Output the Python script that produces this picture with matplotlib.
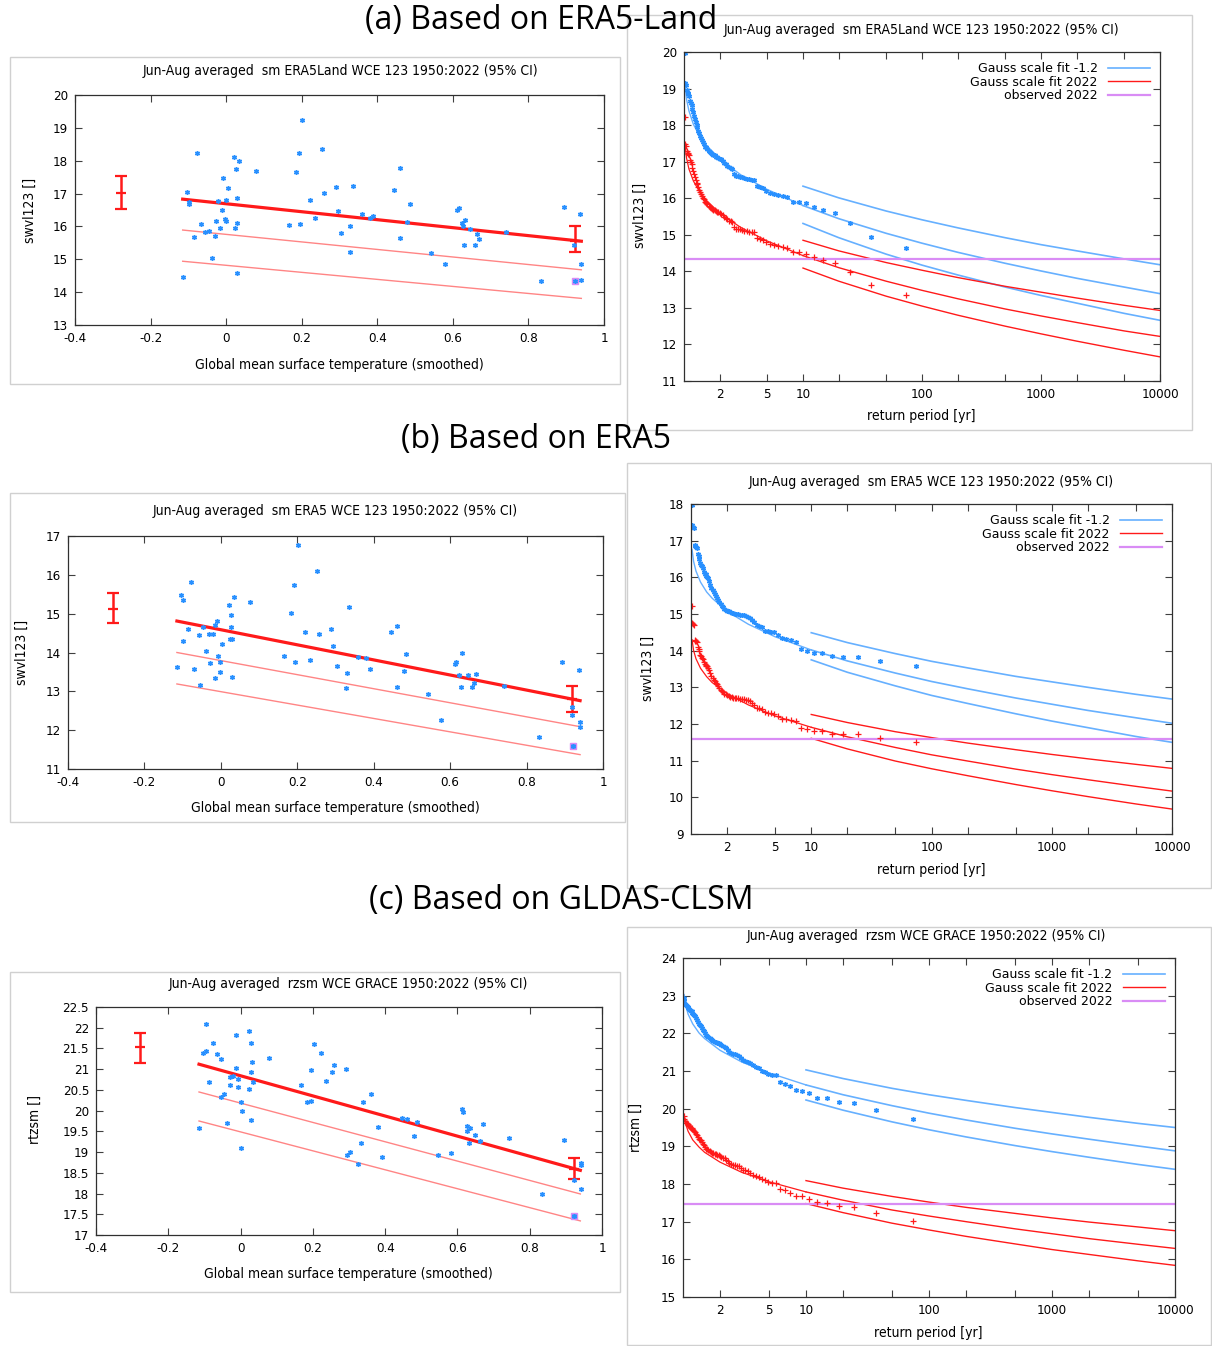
"""Three-row figure: trend scatter + return-period plots for JJA soil moisture."""

import matplotlib
matplotlib.use("Agg")
import matplotlib.pyplot as plt
from matplotlib.patches import Rectangle
from matplotlib.ticker import FixedLocator, FixedFormatter, NullLocator

W, H = 1212, 1346

# ---------------------------------------------------------------------------
# Data
# ---------------------------------------------------------------------------

# (a) ERA5-Land scatter: smoothed GMST vs JJA swvl123
gmst_a = [-0.115, -0.104, -0.098, -0.098, -0.077, -0.067, -0.086, -0.057, -0.046, -0.038,
          -0.030, -0.027, -0.021, -0.015, -0.012, -0.007, -0.004, 0.000, 0.000, 0.004,
          0.021, 0.026, 0.035, 0.023, 0.029, 0.028, 0.028, 0.079, 0.167, 0.184,
          0.193, 0.195, 0.201, 0.222, 0.235, 0.253, 0.258, 0.290, 0.295, 0.304,
          0.329, 0.327, 0.337, 0.359, 0.382, 0.389, 0.445, 0.461, 0.461, 0.479,
          0.486, 0.543, 0.579, 0.612, 0.616, 0.625, 0.627, 0.629, 0.632, 0.646,
          0.659, 0.663, 0.669, 0.741, 0.833, 0.894, 0.921, 0.937, 0.940, 0.940]
sm_a = [14.47, 17.05, 16.75, 16.68, 18.23, 16.08, 15.68, 15.82, 15.87, 15.03,
        15.72, 16.18, 16.78, 15.95, 16.49, 17.48, 16.24, 16.18, 16.80, 17.17,
        18.10, 17.76, 17.98, 15.95, 16.10, 16.86, 14.59, 17.70, 16.04, 17.66,
        18.23, 16.06, 19.25, 16.81, 16.26, 18.35, 17.01, 17.20, 16.47, 15.79,
        16.01, 15.22, 17.24, 16.39, 16.27, 16.31, 17.11, 17.79, 15.64, 16.12,
        16.67, 15.18, 14.86, 16.51, 16.57, 16.10, 16.02, 15.42, 16.20, 15.92,
        15.44, 15.76, 15.62, 15.83, 14.34, 16.60, 15.42, 16.38, 14.86, 14.36]

# (b) ERA5 scatter
gmst_b = [-0.116, -0.105, -0.098, -0.098, -0.087, -0.077, -0.069, -0.058, -0.055, -0.047,
          -0.040, -0.030, -0.028, -0.021, -0.016, -0.016, -0.009, -0.007, -0.003, -0.002,
          0.002, 0.021, 0.024, 0.027, 0.026, 0.029, 0.028, 0.034, 0.076, 0.165,
          0.183, 0.192, 0.194, 0.201, 0.220, 0.234, 0.251, 0.258, 0.289, 0.294,
          0.303, 0.328, 0.330, 0.335, 0.359, 0.379, 0.389, 0.445, 0.461, 0.461,
          0.480, 0.484, 0.542, 0.577, 0.612, 0.615, 0.624, 0.628, 0.631, 0.647,
          0.658, 0.662, 0.668, 0.740, 0.833, 0.894, 0.918, 0.919, 0.921, 0.938,
          0.939, 0.939]
sm_b = [13.62, 15.49, 15.35, 14.30, 14.60, 15.81, 13.58, 14.44, 13.16, 14.65,
        14.04, 14.47, 13.74, 14.47, 13.35, 14.71, 14.80, 13.92, 13.76, 13.51,
        14.23, 15.23, 14.36, 14.96, 14.66, 14.34, 13.36, 15.43, 15.30, 13.92,
        15.02, 15.73, 13.76, 16.78, 14.52, 13.81, 16.11, 14.48, 14.61, 14.17,
        13.64, 13.09, 13.47, 15.18, 13.88, 13.85, 13.58, 14.53, 14.68, 13.10,
        13.53, 13.95, 12.92, 12.27, 13.70, 13.75, 13.42, 13.10, 14.00, 13.42,
        13.10, 13.21, 13.44, 13.15, 11.83, 13.76, 12.59, 12.39, 11.60, 13.55,
        12.22, 12.09]

# (c) GLDAS-CLSM scatter (rzsm)
gmst_c = [-0.114, -0.103, -0.097, -0.095, -0.086, -0.076, -0.066, -0.055, -0.053, -0.045,
          -0.038, -0.029, -0.028, -0.022, -0.013, -0.012, -0.007, -0.006, 0.000, 0.000,
          0.004, 0.023, 0.024, 0.029, 0.029, 0.030, 0.032, 0.034, 0.080, 0.168,
          0.185, 0.195, 0.196, 0.204, 0.223, 0.235, 0.253, 0.259, 0.292, 0.295,
          0.304, 0.326, 0.333, 0.339, 0.360, 0.380, 0.390, 0.447, 0.460, 0.480,
          0.487, 0.547, 0.581, 0.613, 0.616, 0.626, 0.626, 0.634, 0.633, 0.649,
          0.663, 0.672, 0.743, 0.834, 0.895, 0.923, 0.923, 0.941, 0.942, 0.941]
sm_c = [19.58, 21.39, 21.43, 22.10, 20.69, 21.63, 21.36, 21.25, 20.33, 20.39,
        19.69, 20.63, 20.81, 20.84, 21.83, 21.03, 20.76, 20.57, 20.21, 19.09,
        19.99, 20.53, 21.91, 20.93, 19.77, 21.63, 21.17, 20.68, 21.28, 20.63,
        20.21, 20.99, 20.23, 21.61, 21.38, 20.71, 20.92, 21.09, 21.00, 18.92,
        19.01, 18.72, 19.23, 20.21, 20.41, 19.61, 18.89, 19.83, 19.79, 19.38,
        19.73, 18.92, 18.97, 20.05, 19.97, 19.63, 19.50, 19.58, 19.21, 19.42,
        19.26, 19.68, 19.33, 17.98, 19.28, 17.46, 18.32, 18.74, 18.68, 18.10]

# observed 2022 value (x = GMST 2022)
obs_gmst = 0.922
obs_a, obs_b, obs_c = 14.33, 11.60, 17.46

# fitted trend lines in the scatter plots (start / end of covariate range)
trend_x = [-0.115, 0.94]
trend_a = [[16.83, 15.55], [15.89, 14.68], [14.94, 13.81]]
trend_b = [[14.81, 12.76], [14.00, 12.09], [13.19, 11.37]]
trend_c = [[21.12, 18.56], [20.45, 17.99], [19.75, 17.34]]

# 95% CI error bars on the mean: (x, centre, low, high)
ebar_a = [(-0.277, 17.03, 16.53, 17.53), (0.922, 15.57, 15.22, 16.02)]
ebar_b = [(-0.281, 15.13, 14.75, 15.54), (0.919, 12.80, 12.48, 13.14)]
ebar_c = [(-0.278, 21.54, 21.16, 21.87), (0.923, 18.60, 18.34, 18.85)]

# return-period plots: ordered values, rank 1 = driest (longest return period)
n_years = 73
rl_pts_a_cold = [14.63, 14.93, 15.31, 15.59, 15.69, 15.75, 15.86, 15.91, 15.91, 16.04,
                 16.07, 16.10, 16.12, 16.14, 16.20, 16.28, 16.31, 16.34, 16.51, 16.51,
                 16.52, 16.53, 16.55, 16.57, 16.59, 16.60, 16.62, 16.66, 16.80, 16.83,
                 16.86, 16.89, 16.94, 16.96, 17.03, 17.07, 17.08, 17.10, 17.12, 17.14,
                 17.17, 17.19, 17.21, 17.23, 17.26, 17.29, 17.35, 17.39, 17.41, 17.49,
                 17.53, 17.58, 17.64, 17.71, 17.78, 17.85, 17.94, 17.99, 18.08, 18.17,
                 18.26, 18.35, 18.45, 18.54, 18.60, 18.67, 18.81, 18.86, 18.88, 18.95,
                 19.09, 19.15, 19.97]
rl_pts_a_now = [13.36, 13.63, 13.98, 14.23, 14.32, 14.38, 14.48, 14.53, 14.53, 14.64,
                14.67, 14.70, 14.72, 14.74, 14.79, 14.86, 14.89, 14.92, 15.07, 15.07,
                15.08, 15.09, 15.11, 15.13, 15.15, 15.16, 15.17, 15.21, 15.34, 15.37,
                15.39, 15.42, 15.47, 15.48, 15.55, 15.58, 15.59, 15.61, 15.63, 15.65,
                15.68, 15.69, 15.71, 15.73, 15.76, 15.79, 15.84, 15.88, 15.90, 15.97,
                16.00, 16.05, 16.11, 16.17, 16.23, 16.30, 16.38, 16.42, 16.51, 16.59,
                16.67, 16.75, 16.84, 16.93, 16.98, 17.05, 17.17, 17.22, 17.24, 17.30,
                17.43, 17.48, 18.23]
rl_pts_b_cold = [13.59, 13.73, 13.84, 13.84, 13.86, 13.94, 13.95, 14.00, 14.05, 14.25,
                 14.30, 14.32, 14.35, 14.42, 14.50, 14.52, 14.53, 14.55, 14.65, 14.68,
                 14.70, 14.78, 14.85, 14.90, 14.93, 14.95, 14.96, 14.97, 14.98, 14.99,
                 15.00, 15.01, 15.02, 15.03, 15.05, 15.07, 15.09, 15.12, 15.15, 15.18,
                 15.22, 15.27, 15.32, 15.38, 15.45, 15.50, 15.55, 15.60, 15.65, 15.72,
                 15.80, 15.90, 15.98, 16.02, 16.05, 16.08, 16.10, 16.15, 16.25, 16.30,
                 16.35, 16.40, 16.50, 16.58, 16.65, 16.80, 16.83, 16.85, 16.88, 17.35,
                 17.38, 17.42, 17.98]
rl_pts_b_now = [11.51, 11.63, 11.72, 11.72, 11.74, 11.81, 11.82, 11.86, 11.90, 12.07,
                12.11, 12.13, 12.15, 12.21, 12.28, 12.30, 12.31, 12.32, 12.41, 12.43,
                12.45, 12.52, 12.58, 12.62, 12.65, 12.66, 12.67, 12.68, 12.69, 12.70,
                12.71, 12.71, 12.72, 12.73, 12.75, 12.76, 12.78, 12.81, 12.83, 12.86,
                12.89, 12.93, 12.98, 13.03, 13.09, 13.13, 13.17, 13.21, 13.26, 13.31,
                13.38, 13.47, 13.54, 13.57, 13.59, 13.62, 13.64, 13.68, 13.76, 13.81,
                13.85, 13.89, 13.98, 14.04, 14.10, 14.23, 14.26, 14.27, 14.30, 14.70,
                14.72, 14.75, 15.23]
rl_pts_c_cold = [19.73, 19.97, 20.14, 20.19, 20.28, 20.29, 20.41, 20.47, 20.50, 20.59,
                 20.66, 20.70, 20.89, 20.89, 20.92, 20.98, 21.00, 21.08, 21.10, 21.15,
                 21.20, 21.25, 21.27, 21.30, 21.35, 21.40, 21.42, 21.44, 21.45, 21.47,
                 21.50, 21.55, 21.60, 21.64, 21.67, 21.70, 21.72, 21.74, 21.75, 21.77,
                 21.78, 21.80, 21.82, 21.85, 21.88, 21.90, 21.92, 21.95, 22.00, 22.05,
                 22.10, 22.15, 22.20, 22.23, 22.25, 22.30, 22.35, 22.40, 22.45, 22.50,
                 22.52, 22.55, 22.58, 22.60, 22.62, 22.65, 22.68, 22.70, 22.72, 22.75,
                 22.78, 22.85, 22.95]
rl_pts_c_now = [17.03, 17.23, 17.38, 17.42, 17.50, 17.51, 17.61, 17.67, 17.69, 17.77,
                17.83, 17.86, 18.03, 18.03, 18.05, 18.11, 18.12, 18.19, 18.21, 18.25,
                18.30, 18.34, 18.36, 18.38, 18.43, 18.47, 18.49, 18.50, 18.51, 18.53,
                18.55, 18.60, 18.64, 18.68, 18.70, 18.73, 18.74, 18.76, 18.77, 18.79,
                18.80, 18.81, 18.83, 18.86, 18.88, 18.90, 18.92, 18.94, 18.99, 19.03,
                19.07, 19.11, 19.16, 19.18, 19.20, 19.24, 19.29, 19.33, 19.37, 19.42,
                19.43, 19.46, 19.49, 19.50, 19.52, 19.55, 19.57, 19.59, 19.61, 19.63,
                19.66, 19.72, 19.81]

# fitted return-level curves: central fit over the whole range, CI from 10 yr
T_short = [1.02, 1.05, 1.1, 1.2, 1.35, 1.5, 2, 3, 5]
T_long = [10, 20, 50, 100, 200, 500, 1000, 2000, 5000, 10000]

fit_a_cold_short = [19.10, 18.71, 18.39, 18.02, 17.71, 17.49, 17.07, 16.64, 16.24]
fit_a_cold = [[16.33, 16.01, 15.65, 15.41, 15.19, 14.92, 14.73, 14.56, 14.34, 14.18],
              [15.80, 15.44, 15.04, 14.77, 14.52, 14.22, 14.01, 13.81, 13.57, 13.39],
              [15.31, 14.92, 14.47, 14.17, 13.90, 13.57, 13.34, 13.13, 12.85, 12.66]]
fit_a_now_short = [17.46, 17.10, 16.80, 16.47, 16.18, 15.98, 15.59, 15.20, 14.83]
fit_a_now = [[14.85, 14.56, 14.24, 14.03, 13.83, 13.59, 13.43, 13.27, 13.07, 12.93],
             [14.43, 14.10, 13.73, 13.48, 13.25, 12.97, 12.78, 12.60, 12.37, 12.22],
             [14.09, 13.73, 13.32, 13.05, 12.80, 12.50, 12.29, 12.09, 11.84, 11.66]]

fit_b_cold_short = [16.76, 16.44, 16.17, 15.87, 15.60, 15.43, 15.07, 14.72, 14.38]
fit_b_cold = [[14.49, 14.22, 13.92, 13.71, 13.53, 13.30, 13.15, 13.00, 12.81, 12.68],
              [14.02, 13.72, 13.39, 13.16, 12.96, 12.71, 12.54, 12.37, 12.17, 12.02],
              [13.75, 13.41, 13.04, 12.78, 12.56, 12.28, 12.08, 11.90, 11.66, 11.50]]
fit_b_now_short = [14.30, 14.01, 13.78, 13.52, 13.29, 13.13, 12.83, 12.52, 12.22]
fit_b_now = [[12.26, 12.04, 11.79, 11.63, 11.48, 11.30, 11.17, 11.05, 10.90, 10.79],
             [11.91, 11.65, 11.36, 11.16, 10.99, 10.77, 10.62, 10.48, 10.30, 10.17],
             [11.61, 11.32, 10.99, 10.78, 10.59, 10.35, 10.18, 10.02, 9.82, 9.68]]

fit_c_cold_short = [23.03, 22.75, 22.51, 22.25, 22.01, 21.86, 21.55, 21.24, 20.95]
fit_c_cold = [[21.03, 20.80, 20.54, 20.37, 20.22, 20.03, 19.90, 19.77, 19.61, 19.50],
              [20.63, 20.37, 20.08, 19.88, 19.70, 19.48, 19.33, 19.19, 19.01, 18.88],
              [20.23, 19.96, 19.65, 19.44, 19.25, 19.02, 18.86, 18.71, 18.52, 18.39]]
fit_c_now_short = [19.85, 19.60, 19.40, 19.17, 18.98, 18.84, 18.58, 18.31, 18.06]
fit_c_now = [[18.09, 17.89, 17.67, 17.52, 17.38, 17.22, 17.10, 16.99, 16.86, 16.76],
             [17.79, 17.57, 17.31, 17.15, 17.00, 16.81, 16.68, 16.55, 16.40, 16.29],
             [17.48, 17.24, 16.96, 16.78, 16.61, 16.41, 16.26, 16.13, 15.96, 15.84]]

rp_ticks = [2, 5, 10, 20, 50, 100, 200, 500, 1000, 2000, 5000, 10000]
rp_labels = ["2", "5", "10", "", "", "100", "", "", "1000", "", "", "10000"]
legend_labels = ["Gauss scale fit -1.2", "Gauss scale fit 2022", "observed 2022"]

# ---------------------------------------------------------------------------
# Style
# ---------------------------------------------------------------------------

BLUE_PT = "#2890ff"
BLUE_LN = "#66b0ff"
RED = "#ff1a1a"
RED_THIN = "#ff8585"
VIOLET = "#d98cf5"
BOX = "#d0d0d0"
TICK_FS = 9.5
LAB_FS = 10
LEG_FS = 9
ASTER = (6, 2, 0)

plt.rcParams.update({
    "font.family": "DejaVu Sans",
    "axes.linewidth": 0.9,
    "axes.edgecolor": "#303030",
})

fig = plt.figure(figsize=(W / 100, H / 100), dpi=100)


def px_axes(x0, y0, x1, y1):
    return fig.add_axes([x0 / W, 1 - y1 / H, (x1 - x0) / W, (y1 - y0) / H])


def ftext(x, y, s, **kw):
    kw.setdefault("ha", "center")
    kw.setdefault("va", "center")
    fig.text(x / W, 1 - y / H, s, **kw)


def box(x0, y0, x1, y1):
    fig.patches.append(Rectangle((x0 / W, 1 - y1 / H), (x1 - x0) / W, (y1 - y0) / H,
                                 transform=fig.transFigure, fill=False,
                                 edgecolor=BOX, linewidth=1.0))


def gp_ticks(ax):
    ax.tick_params(direction="in", top=True, right=True, length=5, width=0.8,
                   color="#404040", labelsize=TICK_FS, pad=5)
    for t in ax.get_xticklabels() + ax.get_yticklabels():
        t.set_fontstretch("condensed")


def scatter_panel(ax, gmst, sm, trends, ebars, obs, ylim, ystep):
    ax.plot(trend_x, trends[1], color=RED_THIN, lw=1.0)
    ax.plot(trend_x, trends[2], color=RED_THIN, lw=1.0)
    ax.plot(trend_x, trends[0], color=RED, lw=2.3)
    for ex, mid, lo, hi in ebars:
        ax.errorbar([ex], [mid], yerr=[[mid - lo], [hi - mid]], fmt="_", color=RED,
                    ms=7, mew=1.6, elinewidth=1.8, capsize=4, capthick=1.8)
    ax.plot([obs_gmst], [obs], "s", color=VIOLET, ms=5)
    ax.plot(gmst, sm, ls="none", marker=ASTER, color=BLUE_PT, ms=3.6, mew=1.0)
    ax.plot([obs_gmst], [obs], ls="none", marker=ASTER, color=BLUE_PT, ms=3.6, mew=1.0)
    ax.set_xlim(-0.4, 1.0)
    ax.set_ylim(*ylim)
    ax.set_xticks([-0.4, -0.2, 0, 0.2, 0.4, 0.6, 0.8, 1.0])
    ax.set_xticklabels(["-0.4", "-0.2", "0", "0.2", "0.4", "0.6", "0.8", "1"])
    yt = []
    v = ylim[0]
    while v <= ylim[1] + 1e-9:
        yt.append(v)
        v += ystep
    ax.set_yticks(yt)
    ax.set_yticklabels([f"{t:g}" for t in yt])
    gp_ticks(ax)


def return_panel(ax, pts_cold, pts_now, cold_short, cold_long, now_short, now_long,
                 obs, ylim):
    rp = [(n_years + 1) / r for r in range(1, len(pts_cold) + 1)]
    ax.plot(T_short + T_long[:1], cold_short + cold_long[1][:1], color=BLUE_LN, lw=1.0)
    ax.plot(T_short + T_long[:1], now_short + now_long[1][:1], color=RED, lw=0.9)
    handles = []
    for k, vals in enumerate(cold_long):
        h = ax.plot(T_long, vals, color=BLUE_LN, lw=1.2)[0]
        if k == 0:
            handles.append(h)
    for k, vals in enumerate(now_long):
        h = ax.plot(T_long, vals, color=RED, lw=1.0)[0]
        if k == 0:
            handles.append(h)
    handles.append(ax.axhline(obs, color=VIOLET, lw=1.6))
    ax.plot(rp, pts_cold, ls="none", marker=ASTER, color=BLUE_PT, ms=3.6, mew=1.0)
    ax.plot(rp, pts_now, ls="none", marker="+", color=RED, ms=4.2, mew=0.9)
    ax.set_xscale("log")
    ax.set_xlim(1, 10000)
    ax.set_ylim(*ylim)
    ax.xaxis.set_major_locator(FixedLocator(rp_ticks))
    ax.xaxis.set_major_formatter(FixedFormatter(rp_labels))
    ax.xaxis.set_minor_locator(NullLocator())
    ax.set_yticks(range(ylim[0], ylim[1] + 1))
    gp_ticks(ax)
    ax.legend(handles, legend_labels, loc="upper right", frameon=False,
              markerfirst=False, handlelength=3.4, fontsize=LEG_FS,
              labelspacing=0.05, borderaxespad=0.4, handletextpad=0.8)


# ---------------------------------------------------------------------------
# Panel boxes and headings
# ---------------------------------------------------------------------------

box(10, 57, 620, 384)
box(627, 15, 1192, 430)
box(10, 493, 625, 822)
box(627, 463, 1211, 888)
box(10, 972, 620, 1292)
box(627, 927, 1211, 1345)

HEAD = dict(fontsize=23, family="Open Sans")
ftext(541, 21, "(a) Based on ERA5-Land", **HEAD)
ftext(536, 440, "(b) Based on ERA5", **HEAD)
ftext(561, 901, "(c) Based on GLDAS-CLSM", **HEAD)

LAB = dict(fontsize=LAB_FS, fontstretch="condensed")
XLAB_S = "Global mean surface temperature (smoothed)"
XLAB_R = "return period [yr]"

# (a)
ax = px_axes(75, 95, 604, 325)
scatter_panel(ax, gmst_a, sm_a, trend_a, ebar_a, obs_a, (13, 20), 1)
ftext(340, 71, "Jun-Aug averaged  sm ERA5Land WCE 123 1950:2022 (95% CI)", **LAB)
ftext(339, 365, XLAB_S, **LAB)
ftext(30, 210, "swvl123 []", rotation=90, **LAB)

ax = px_axes(684, 52, 1160, 381)
return_panel(ax, rl_pts_a_cold, rl_pts_a_now, fit_a_cold_short, fit_a_cold,
             fit_a_now_short, fit_a_now, obs_a, (11, 20))
ftext(921, 30, "Jun-Aug averaged  sm ERA5Land WCE 123 1950:2022 (95% CI)", **LAB)
ftext(921, 416, XLAB_R, **LAB)
ftext(640, 215, "swvl123 []", rotation=90, **LAB)

# (b)
ax = px_axes(68, 536, 603, 769)
scatter_panel(ax, gmst_b, sm_b, trend_b, ebar_b, obs_b, (11, 17), 1)
ftext(335, 511, "Jun-Aug averaged  sm ERA5 WCE 123 1950:2022 (95% CI)", **LAB)
ftext(335, 808, XLAB_S, **LAB)
ftext(22, 652, "swvl123 []", rotation=90, **LAB)

ax = px_axes(691, 504, 1172, 834)
return_panel(ax, rl_pts_b_cold, rl_pts_b_now, fit_b_cold_short, fit_b_cold,
             fit_b_now_short, fit_b_now, obs_b, (9, 18))
ftext(931, 482, "Jun-Aug averaged  sm ERA5 WCE 123 1950:2022 (95% CI)", **LAB)
ftext(931, 870, XLAB_R, **LAB)
ftext(648, 668, "swvl123 []", rotation=90, **LAB)

# (c)
ax = px_axes(96, 1007, 602, 1235)
scatter_panel(ax, gmst_c, sm_c, trend_c, ebar_c, obs_c, (17, 22.5), 0.5)
ftext(348, 984, "Jun-Aug averaged  rzsm WCE GRACE 1950:2022 (95% CI)", **LAB)
ftext(348, 1274, XLAB_S, **LAB)
ftext(35, 1120, "rtzsm []", rotation=90, **LAB)

ax = px_axes(683, 958, 1175, 1297)
return_panel(ax, rl_pts_c_cold, rl_pts_c_now, fit_c_cold_short, fit_c_cold,
             fit_c_now_short, fit_c_now, obs_c, (15, 24))
ftext(926, 936, "Jun-Aug averaged  rzsm WCE GRACE 1950:2022 (95% CI)", **LAB)
ftext(928, 1333, XLAB_R, **LAB)
ftext(636, 1128, "rtzsm []", rotation=90, **LAB)

fig.savefig("out.png", dpi=100)
